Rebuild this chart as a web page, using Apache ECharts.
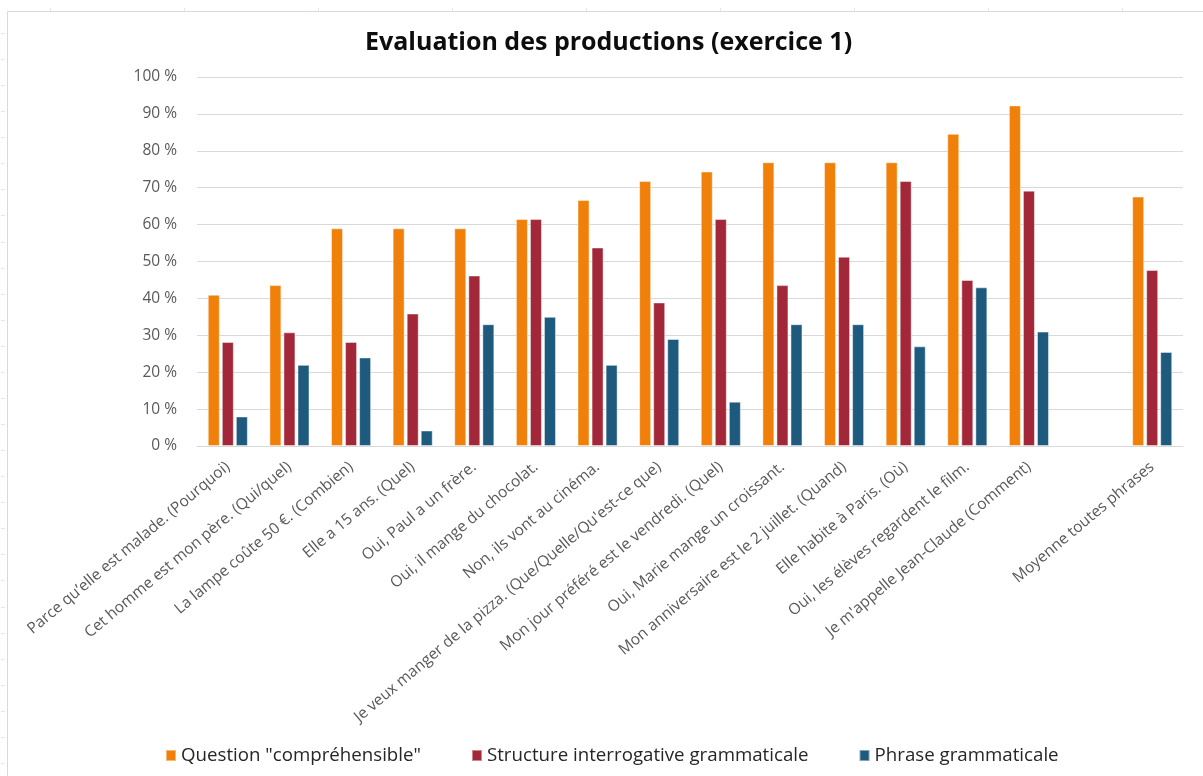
<!DOCTYPE html>
<html lang="fr">
<head>
<meta charset="utf-8">
<title>Evaluation des productions (exercice 1)</title>
<script src="https://cdn.jsdelivr.net/npm/echarts@6/dist/echarts.min.js"></script>
<style>
  html, body { margin: 0; padding: 0; background: #ffffff; }
  #chart { width: 1203px; height: 776px; }
</style>
</head>
<body>
<div id="chart"></div>
<script>
// Phrases évaluées (la catégorie vide sépare la moyenne du reste)
const categories = [
  "Parce qu’elle est malade. (Pourquoi)",
  "Cet homme est mon père. (Qui/quel)",
  "La lampe coûte 50 €. (Combien)",
  "Elle a 15 ans. (Quel)",
  "Oui, Paul a un frère.",
  "Oui, il mange du chocolat.",
  "Non, ils vont au cinéma.",
  "Je veux manger de la pizza. (Que/Quelle/Qu'est-ce que)",
  "Mon jour préféré est le vendredi. (Quel)",
  "Oui, Marie mange un croissant.",
  "Mon anniversaire est le 2 juillet. (Quand)",
  "Elle habite à Paris. (Où)",
  "Oui, les élèves regardent le film.",
  "Je m'appelle Jean-Claude (Comment)",
  "",
  "Moyenne toutes phrases"
];

// Pourcentages par critère
const questionComprehensible = [41.0, 43.6, 59.0, 59.0, 59.0, 61.5, 66.7, 71.8, 74.4, 76.9, 76.9, 76.9, 84.6, 92.3, null, 67.6];
const structureGrammaticale  = [28.2, 30.8, 28.2, 35.9, 46.2, 61.5, 53.8, 38.9, 61.5, 43.6, 51.3, 71.8, 45.0, 69.2, null, 47.7];
const phraseGrammaticale     = [8.0, 22.0, 24.0, 4.2, 33.0, 35.0, 22.0, 29.0, 12.0, 33.0, 33.0, 27.0, 43.0, 31.0, null, 25.5];

const seriesNames = [
  'Question "compréhensible"',
  "Structure interrogative grammaticale",
  "Phrase grammaticale"
];
const seriesColors = ["#f08009", "#a22738", "#1e5a7e"];

const yTicks = { min: 0, max: 100, interval: 10 };

const FONT = "'Open Sans', 'Noto Sans', sans-serif";

// Cadre gris clair et petits repères le long des bords
const frame = [];
frame.push({ type: "line", shape: { x1: 7.5, y1: 11.5, x2: 1203, y2: 11.5 }, style: { stroke: "#d9d9d9", lineWidth: 1 }, silent: true });
frame.push({ type: "line", shape: { x1: 7.5, y1: 11.5, x2: 7.5, y2: 776 }, style: { stroke: "#d9d9d9", lineWidth: 1 }, silent: true });
for (let y = 33; y < 776; y += 26.07) {
  frame.push({ type: "line", shape: { x1: 1, y1: Math.round(y) + 0.5, x2: 5, y2: Math.round(y) + 0.5 }, style: { stroke: "#e6e6e6", lineWidth: 1 }, silent: true });
}
for (let x = 50; x < 1203; x += 134) {
  frame.push({ type: "line", shape: { x1: Math.round(x) + 0.5, y1: 8, x2: Math.round(x) + 0.5, y2: 11 }, style: { stroke: "#e6e6e6", lineWidth: 1 }, silent: true });
}

const chart = echarts.init(document.getElementById("chart"), null, { renderer: "canvas" });

const barStyle = (color) => ({
  color: color,
  borderColor: "rgba(255,255,255,0.45)",
  borderWidth: 1
});

chart.setOption({
  backgroundColor: "#ffffff",
  animation: false,
  title: {
    text: "Evaluation des productions (exercice 1)",
    left: 360,
    top: 25,
    textStyle: { fontFamily: FONT, fontSize: 25, fontWeight: "bold", color: "#0d0d0d" }
  },
  legend: {
    data: seriesNames,
    left: 160,
    top: 741,
    itemWidth: 10,
    itemHeight: 11,
    itemGap: 50,
    icon: "rect",
    textStyle: { fontFamily: FONT, fontSize: 18.7, color: "#262626" }
  },
  grid: { left: 197, right: 20, top: 77, bottom: 330, containLabel: false },
  xAxis: {
    type: "category",
    data: categories,
    axisLine: { lineStyle: { color: "#d9d9d9", width: 1 } },
    axisTick: { show: false },
    axisLabel: {
      interval: 0,
      rotate: 40,
      margin: 19,
      padding: [30, 0, 0, 0],
      fontFamily: FONT,
      fontSize: 15.5,
      color: "#595959"
    }
  },
  yAxis: {
    type: "value",
    min: yTicks.min,
    max: yTicks.max,
    interval: yTicks.interval,
    axisLine: { show: false },
    axisTick: { show: false },
    splitLine: { lineStyle: { color: "#d9d9d9", width: 1 } },
    axisLabel: {
      margin: 20,
      formatter: "{value} %",
      fontFamily: FONT,
      fontSize: 15.5,
      color: "#595959"
    }
  },
  series: [
    { name: seriesNames[0], type: "bar", data: questionComprehensible, barWidth: 12, barGap: "17%", itemStyle: barStyle(seriesColors[0]) },
    { name: seriesNames[1], type: "bar", data: structureGrammaticale, barWidth: 12, barGap: "17%", itemStyle: barStyle(seriesColors[1]) },
    { name: seriesNames[2], type: "bar", data: phraseGrammaticale, barWidth: 12, barGap: "17%", itemStyle: barStyle(seriesColors[2]) }
  ],
  graphic: frame
});
</script>
</body>
</html>
